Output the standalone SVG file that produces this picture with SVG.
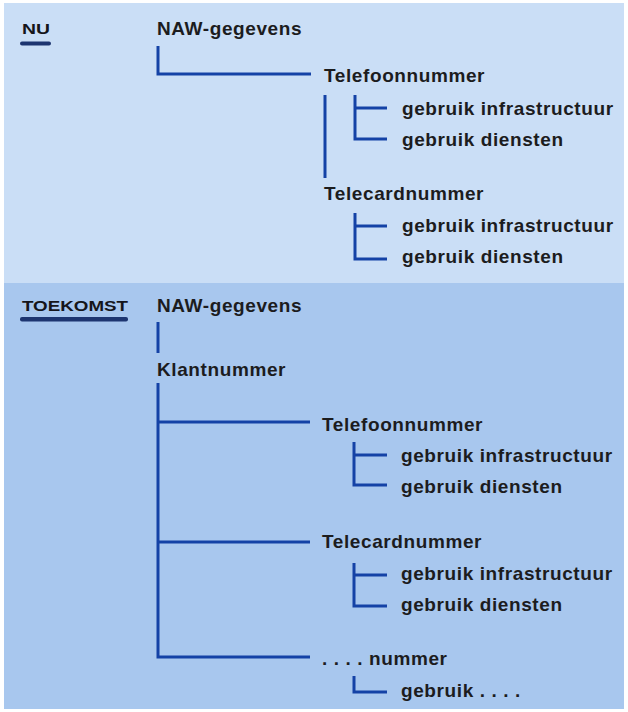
<svg xmlns="http://www.w3.org/2000/svg" width="628" height="712" viewBox="0 0 628 712">
<style>
.t{font-family:"Liberation Sans",Arial,sans-serif;font-weight:bold;font-size:19px;letter-spacing:0.6px;fill:#1c1c1e}
.h{font-family:"Liberation Sans",Arial,sans-serif;font-weight:bold;font-size:14px;fill:#15151a}
.c{stroke:#1442a6;stroke-width:3;fill:none;stroke-linecap:butt;stroke-linejoin:miter}
.bar{fill:#1d3570}
</style>
<rect x="0" y="0" width="628" height="712" fill="#ffffff"/>
<rect x="4" y="3" width="620" height="280" fill="#cadef6"/>
<rect x="4" y="283" width="620" height="426" fill="#a8c7ee"/>

<g id="label-nu">
<text class="h" x="22" y="34" textLength="28" lengthAdjust="spacingAndGlyphs">NU</text>
<rect class="bar" x="20" y="41.5" width="31" height="4" rx="2"/>
</g>
<g id="label-toekomst">
<text class="h" x="22" y="311" textLength="106" lengthAdjust="spacingAndGlyphs">TOEKOMST</text>
<rect class="bar" x="20" y="317" width="108" height="4.5" rx="2"/>
</g>

<g id="connectors">
<path class="c" d="M158 46 V74 H311"/>
<path class="c" d="M325 95 V178"/>
<path class="c" d="M355 95 V139 H387 M355 108 H387"/>
<path class="c" d="M355 213 V259 H387 M355 226 H387"/>
<path class="c" d="M158 322 V353"/>
<path class="c" d="M158 383 V657 H310 M158 422 H310 M158 542 H310"/>
<path class="c" d="M354 442 V485 H387 M354 455 H387"/>
<path class="c" d="M354 563 V606 H387 M354 575 H387"/>
<path class="c" d="M354 676 V692 H387"/>
</g>

<g id="nu-naw"><text class="t" x="157" y="35">NAW-gegevens</text></g>
<g id="nu-telefoon"><text class="t" x="324" y="82">Telefoonnummer</text></g>
<g id="nu-telefoon-infra"><text class="t" x="402" y="115">gebruik infrastructuur</text></g>
<g id="nu-telefoon-diensten"><text class="t" x="402" y="146">gebruik diensten</text></g>
<g id="nu-telecard"><text class="t" x="324" y="200">Telecardnummer</text></g>
<g id="nu-telecard-infra"><text class="t" x="402" y="232">gebruik infrastructuur</text></g>
<g id="nu-telecard-diensten"><text class="t" x="402" y="263">gebruik diensten</text></g>

<g id="tk-naw"><text class="t" x="157" y="312">NAW-gegevens</text></g>
<g id="tk-klant"><text class="t" x="157" y="376">Klantnummer</text></g>
<g id="tk-telefoon"><text class="t" x="322" y="431">Telefoonnummer</text></g>
<g id="tk-telefoon-infra"><text class="t" x="401" y="462">gebruik infrastructuur</text></g>
<g id="tk-telefoon-diensten"><text class="t" x="401" y="493">gebruik diensten</text></g>
<g id="tk-telecard"><text class="t" x="322" y="548">Telecardnummer</text></g>
<g id="tk-telecard-infra"><text class="t" x="401" y="580">gebruik infrastructuur</text></g>
<g id="tk-telecard-diensten"><text class="t" x="401" y="611">gebruik diensten</text></g>
<g id="tk-overig"><text class="t" x="322" y="665">. . . . nummer</text></g>
<g id="tk-overig-gebruik"><text class="t" x="401" y="697">gebruik . . . .</text></g>
</svg>
